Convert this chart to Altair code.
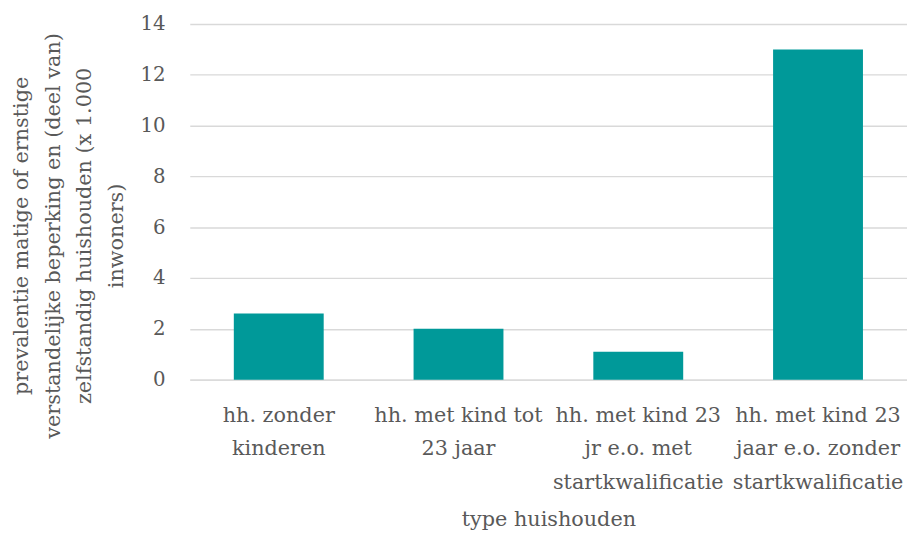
import altair as alt
import pandas as pd

categories = [
    "hh. zonder kinderen",
    "hh. met kind tot 23 jaar",
    "hh. met kind 23 jr e.o. met startkwalificatie",
    "hh. met kind 23 jaar e.o. zonder startkwalificatie",
]
label_lines = [
    ["hh. zonder", "kinderen"],
    ["hh. met kind tot", "23 jaar"],
    ["hh. met kind 23", "jr e.o. met", "startkwalificatie"],
    ["hh. met kind 23", "jaar e.o. zonder", "startkwalificatie"],
]
values = [2.6, 2.0, 1.1, 13.0]
y_title = [
    "prevalentie matige of ernstige",
    "verstandelijke beperking en (deel van)",
    "zelfstandig huishouden (x 1.000",
    "inwoners)",
]
x_title = "type huishouden"

df = pd.DataFrame({"cat": categories, "val": values})

def js_list(items):
    return "[" + ",".join("'" + s.replace("'", "\\'") + "'" for s in items) + "]"

expr = "datum.label"
for c, lines in reversed(list(zip(categories, label_lines))):
    expr = f"datum.label == '{c}' ? {js_list(lines)} : ({expr})"

FONT = "DejaVu Serif"
TXT = "#595959"

chart = alt.Chart(df).mark_bar(color="#009999").encode(
    x=alt.X(
        "cat:N",
        sort=categories,
        scale=alt.Scale(paddingInner=0.5, paddingOuter=0.245),
        axis=alt.Axis(
            title=x_title,
            labelAngle=0,
            labelExpr=expr,
            labelFont=FONT,
            labelFontSize=21,
            labelColor=TXT,
            labelLineHeight=34,
            labelBaseline="alphabetic",
            labelPadding=42,
            labelLimit=0,
            ticks=False,
            domainColor="#d9d9d9",
            domainWidth=1.3,
            titleFont=FONT,
            titleFontSize=21,
            titleFontWeight="normal",
            titleColor=TXT,
            titleBaseline="alphabetic",
            titleY=148,
        ),
    ),
    y=alt.Y(
        "val:Q",
        scale=alt.Scale(domain=[0, 14]),
        axis=alt.Axis(
            title=y_title,
            values=[0, 2, 4, 6, 8, 10, 12, 14],
            labelFont=FONT,
            labelFontSize=20,
            labelColor=TXT,
            labelPadding=25,
            ticks=False,
            domain=False,
            gridColor="#d9d9d9",
            gridWidth=1.3,
            titleFont=FONT,
            titleFontSize=21,
            titleFontWeight="normal",
            titleColor=TXT,
            titleLineHeight=32,
            titleBaseline="alphabetic",
            titleAlign="center",
            titleX=-164,
            titleY=214,
        ),
    ),
).properties(
    width=726,
    height=360,
    autosize=alt.AutoSizeParams(type="none"),
    padding={"left": 184, "top": 13, "right": 0, "bottom": 150},
).configure_view(stroke=None)

chart.save("out.html", embed_options={"renderer": "svg", "actions": False})
